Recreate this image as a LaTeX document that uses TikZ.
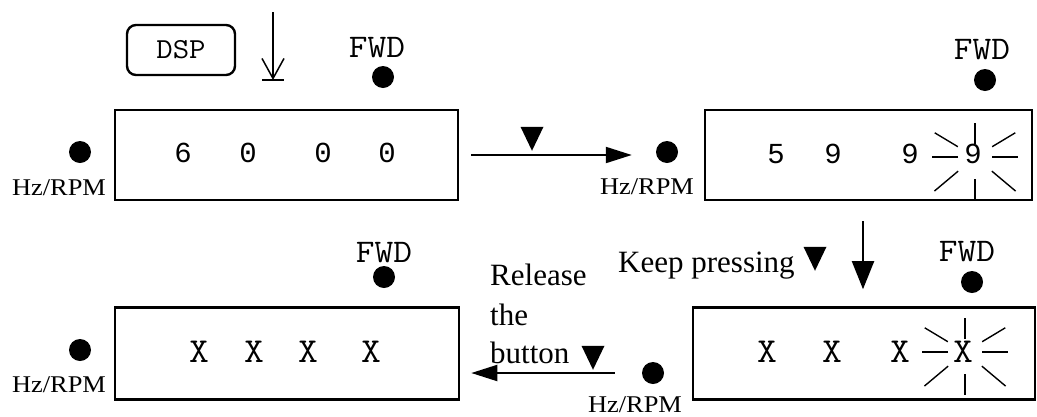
\documentclass[tikz,border=0pt]{standalone}
\usepackage{fontspec}
\setmainfont{Liberation Serif}
\newfontfamily\monofnt{Liberation Mono}
\newfontfamily\twfnt[FakeStretch=1.1]{Latin Modern Mono}
\newfontfamily\widefnt[FakeStretch=1.1]{Liberation Serif}
\usetikzlibrary{arrows.meta,shapes.geometric}
\newcommand\blink[1]{\foreach \a/\r/\R in {0/17/43,180/17/43,90/22/43,270/13/34,140/22/53,40/22/53,211/20/47,329/20/47}
  \draw[ray] ([shift={(\a:\r)}]#1) -- ([shift={(\a:\R)}]#1);}

\begin{document}
\begin{tikzpicture}[x=1pt,y=-1pt,
  dispbox/.style={draw,line width=2.6pt,inner sep=0pt},
  led/.style={circle,fill,inner sep=0pt,minimum size=22pt},
  hzlabel/.style={font=\widefnt\fontsize{24}{28}\selectfont,anchor=base,inner sep=0pt},
  fwdlabel/.style={font=\twfnt\fontsize{33}{38}\selectfont,anchor=base,inner sep=0pt},
  digit/.style={font=\monofnt\fontsize{29}{34}\selectfont,anchor=base,inner sep=0pt},
  xdigit/.style={font=\twfnt\fontsize{35}{40}\selectfont,anchor=base,inner sep=0pt},
  note/.style={font=\fontsize{31}{36}\selectfont,anchor=base west,inner sep=0pt},
  btn/.style={isosceles triangle,isosceles triangle stretches,shape border rotate=-90,fill,inner sep=0pt,minimum width=23pt,minimum height=24pt},
  flow/.style={line width=2pt,-{Triangle[length=26pt,width=16pt]}},
  flowdown/.style={line width=2pt,-{Triangle[length=28pt,width=22pt]}},
  ray/.style={line width=1.4pt}]
\useasboundingbox (0,0) rectangle (1037,416);
\node[draw,line width=2.4pt,rounded corners=9pt,minimum width=108pt,minimum height=50pt,font=\twfnt\fontsize{29}{34}\selectfont] (dsp) at (181,50) {DSP};
\coordinate (presstop) at (273,12); \coordinate (press) at (273,80);
\draw[line width=1.5pt,-{Straight Barb[length=20pt,width=22pt]}] (presstop) -- (press);
\draw[line width=1.5pt] ([xshift=-11pt]press) -- ([xshift=11pt]press);
\node[dispbox,minimum width=343pt,minimum height=90pt] (d1) at (286.5,155) {};
\node[dispbox,minimum width=327pt,minimum height=90pt] (d2) at (868.5,155) {};
\node[dispbox,minimum width=344pt,minimum height=92pt] (d3) at (287,353.5) {};
\node[dispbox,minimum width=342pt,minimum height=92pt] (d4) at (864,353.5) {};
\foreach \x/\c [count=\i] in {183/6,248/0,323/0,387/0} \node[digit] (a\i) at (\x,162) {\c};
\foreach \x/\c [count=\i] in {776/5,833/9,910/9,973/9} \node[digit] (b\i) at (\x,163) {\c};
\foreach \x [count=\i] in {199,254,308,371} \node[xdigit] (c\i) at (\x,362) {X};
\foreach \x [count=\i] in {767,832,900,963} \node[xdigit] (e\i) at (\x,362) {X};
\coordinate (bl1) at (975,157); \coordinate (bl2) at (965,352);
\blink{bl1} \blink{bl2}
\foreach \n/\x/\y/\tx/\ty in {1/80/152/59/195,2/667/152/647/194,3/80/350/59/392,4/653/373/635/412}
  {\node[led] (hz\n) at (\x,\y) {}; \node[hzlabel] (hzt\n) at (\tx,\ty) {Hz/RPM};}
\foreach \n/\x/\y/\tx/\ty in {1/383/77/377/57,2/985/80/982/59,3/384/277/384/262,4/972/282/967/261}
  {\node[led] (fwd\n) at (\x,\y) {}; \node[fwdlabel] (fwdt\n) at (\tx,\ty) {FWD};}
\draw[flow,shorten <=12pt,shorten >=24pt] (d1.east) -- (d1.east -| hz2.west);
\draw[flowdown,shorten <=20pt,shorten >=17pt] ([xshift=-5.5pt]d2.south) -- ([xshift=-5.5pt]d2.south |- d4.north);
\draw[flow,shorten <=27pt,shorten >=11pt] (hz4.west) -- (hz4.west -| d3.east);
\node[btn] (k1) at (532,134) {}; \node[btn] (k2) at (815,254) {}; \node[btn] (k3) at (593,353) {};
\node[note] (keep) at (618,272) {Keep pressing};
\foreach \t/\y [count=\i] in {Release/285,the/325,button/363} \node[note] (rel\i) at (490,\y) {\t};
\end{tikzpicture}
\end{document}
